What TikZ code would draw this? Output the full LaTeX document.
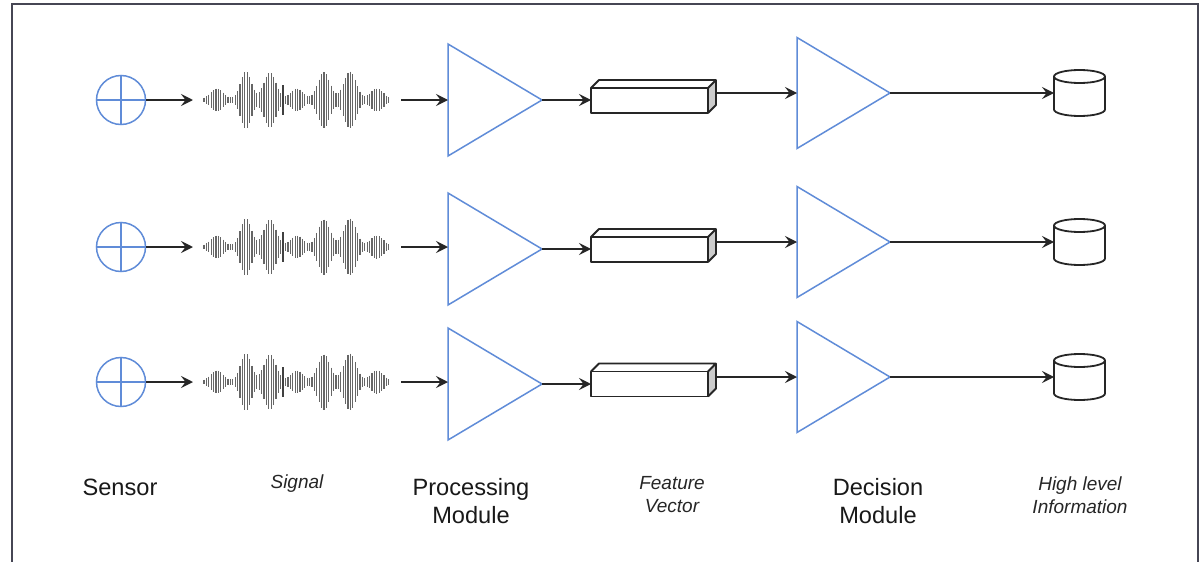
\documentclass[tikz,border=0pt]{standalone}
\usepackage{fontspec}
\setmainfont{Liberation Sans}
\usetikzlibrary{arrows.meta}
\definecolor{blu}{RGB}{96,140,216}
\definecolor{framec}{RGB}{70,70,84}
\begin{document}
\begin{tikzpicture}[x=0.5pt,y=-0.5pt,
  frame/.style={draw=framec,line width=1.1pt},
  bluel/.style={draw=blu,line width=0.75pt},
  conn/.style={draw=black!85,line width=0.9pt,-{Stealth[length=6pt,width=6pt,inset=2.3pt]}},
  wave/.style={draw=black!60,line width=0.65pt},
  boxl/.style={draw=black!85,line width=0.9pt,line join=round},
  lbl/.style={font=\fontsize{11.8}{14}\selectfont,align=center,text=black!90},
  ilbl/.style={font=\fontsize{9.5}{11.5}\selectfont\itshape,align=center,text=black!85}]
\useasboundingbox (0,0) rectangle (1200,562);
\fill[white] (0,0) rectangle (1200,562);
\draw[frame] (12,570) -- (12,4) -- (1198,4) -- (1198,570);

\foreach \r/\ys/\yp/\yb/\yd in {1/100/100/100.5/93, 2/247/249/249.5/242, 3/382/384/384/377}{
  % sensor
  \node[circle,bluel,minimum size=24.5pt,inner sep=0pt] (s\r) at (121,\ys) {};
  \draw[bluel] (s\r.north) -- (s\r.south) (s\r.west) -- (s\r.east);
  % signal
  \coordinate (sgin\r) at (193,\ys);
  \coordinate (sgout\r) at (401,\ys);
  \foreach \i in {0,...,77}{
    \pgfmathsetmacro\xx{204+\i*2.4}
    \pgfmathsetmacro\aa{1.5+10*exp(-((\xx-217)/8.5)^2)+27*exp(-((\xx-246)/7.5)^2)+26*exp(-((\xx-270)/8.5)^2)+10*exp(-((\xx-297)/8.5)^2)+26*exp(-((\xx-324)/8.5)^2)+27*exp(-((\xx-350)/8.5)^2)+10*exp(-((\xx-377)/8.5)^2)}
    \draw[wave] (\xx,\ys-\aa) -- (\xx,\ys+\aa);
  }
  \draw[wave,draw=black!75] (283,\ys-15) -- (283,\ys+15);
  % processing module
  \draw[bluel,line join=miter] (448,\yp-56) -- (542,\yp) -- (448,\yp+56) -- cycle;
  \coordinate (pin\r) at (448,\ys);
  \coordinate (pout\r) at (542,\yp);
  % feature vector box
  \fill[black!20] (708,\yb-12.5) -- (716,\yb-20.5) -- (716,\yb+4.5) -- (708,\yb+12.5) -- cycle;
  \draw[boxl,fill=white] (591,\yb-12.5) rectangle (708,\yb+12.5);
  \draw[boxl] (591,\yb-12.5) -- (599,\yb-20.5) -- (716,\yb-20.5) -- (716,\yb+4.5) -- (708,\yb+12.5)
              (708,\yb-12.5) -- (716,\yb-20.5);
  \coordinate (fin\r) at (591,\yp);
  \coordinate (fout\r) at (716,\yd);
  % decision module
  \draw[bluel,line join=miter] (797,\yd-55.5) -- (890,\yd) -- (797,\yd+55.5) -- cycle;
  \coordinate (din\r) at (797,\yd);
  \coordinate (dout\r) at (890,\yd);
  % cylinder
  \draw[boxl,fill=white] (1054,\yd-16.5) -- (1054,\yd+16.5) arc[start angle=180,end angle=0,x radius=25.5,y radius=6.5]
     -- (1105,\yd-16.5);
  \draw[boxl,fill=white] (1079.5,\yd-16.5) ellipse[x radius=25.5,y radius=6.5];
  \coordinate (cin\r) at (1054,\yd);
  % connectors
  \draw[conn] (s\r.east) -- (sgin\r);
  \draw[conn] (sgout\r) -- (pin\r);
  \draw[conn] (pout\r) -- (fin\r);
  \draw[conn] (fout\r) -- (din\r);
  \draw[conn] (dout\r) -- (cin\r);
}

\node[lbl] (lsensor) at (120,487) {Sensor};
\node[ilbl] (lsignal) at (297,484) {Signal};
\node[lbl] (lproc) at (471,501) {Processing\\Module};
\node[ilbl] (lfeat) at (672,495) {Feature\\Vector};
\node[lbl] (ldec) at (878,501) {Decision\\Module};
\node[ilbl] (lhigh) at (1080,495) {High level\\Information};
\end{tikzpicture}
\end{document}
